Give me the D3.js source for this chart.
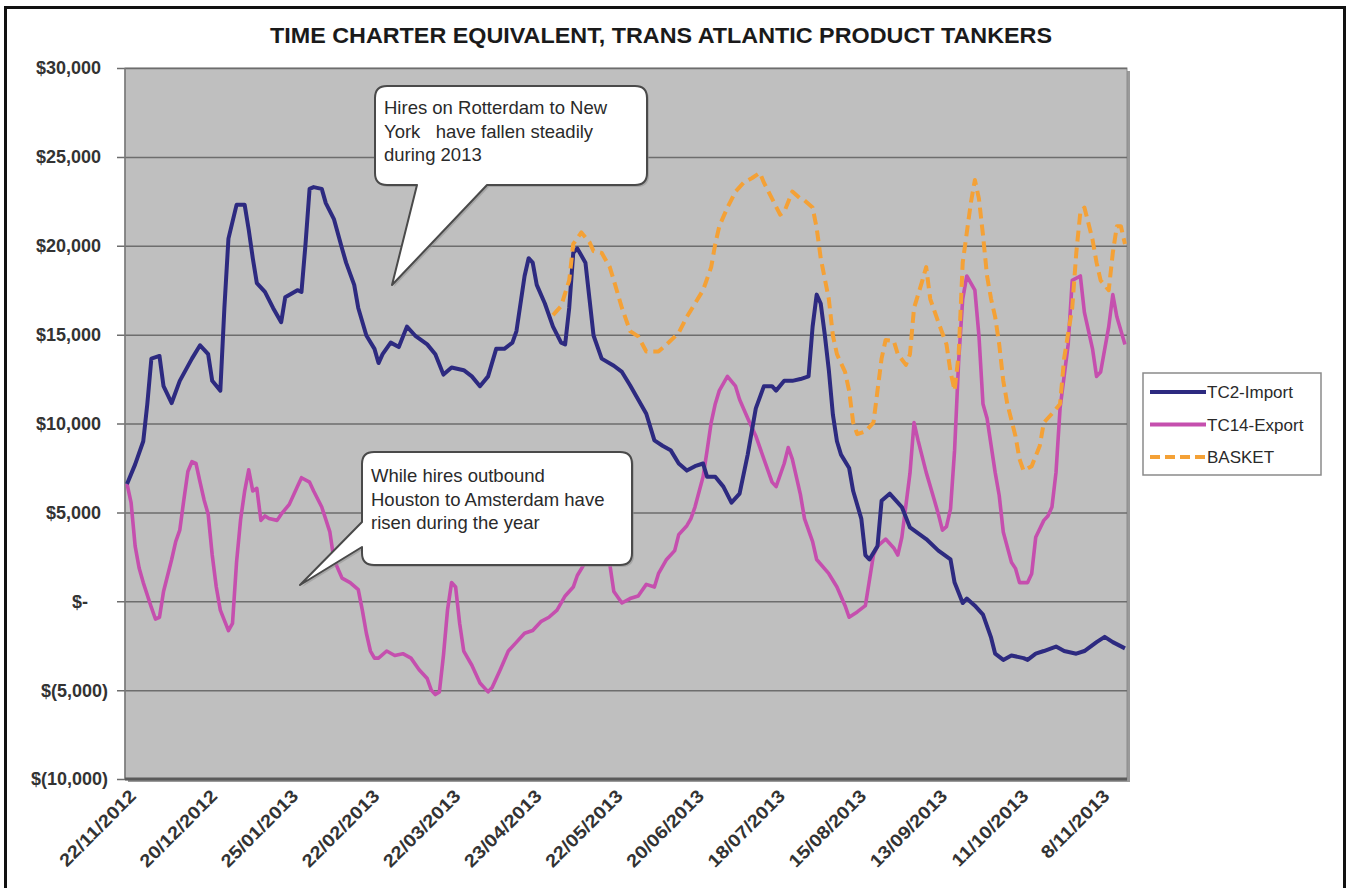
<!DOCTYPE html>
<html>
<head>
<meta charset="utf-8">
<script src="https://cdn.jsdelivr.net/npm/d3@7"></script>
<style>
  html, body { margin: 0; padding: 0; background: #ffffff; }
  svg { display: block; }
  text { font-family: "Liberation Sans", Arial, sans-serif; }
</style>
</head>
<body>
<svg id="chart" width="1350" height="888"></svg>
<script>
// ---- data ---------------------------------------------------------------
// Business-day categories from 22/11/2012; every 20th one carries a date label.
const categoryCount = 247;
const xTickLabels = [
  [0, "22/11/2012"], [20, "20/12/2012"], [40, "25/01/2013"], [60, "22/02/2013"],
  [80, "22/03/2013"], [100, "23/04/2013"], [120, "22/05/2013"], [140, "20/06/2013"],
  [160, "18/07/2013"], [180, "15/08/2013"], [200, "13/09/2013"], [220, "11/10/2013"],
  [240, "8/11/2013"]
];
const yTicks = [-10000, -5000, 0, 5000, 10000, 15000, 20000, 25000, 30000];
const seriesNames = ["TC2-Import", "TC14-Export", "BASKET"];

// [category index, USD/day]
const tc2Import = [[0,6600],[2,7700],[4,9000],[5,11100],[6,13650],[8,13800],[9,12100],[11,11150],[13,12400],[16,13650],[18,14400],[20,13900],[21,12400],[23,11850],[24,16500],[25,20400],[27,22300],[29,22300],[30,20900],[31,19300],[32,17900],[34,17400],[36,16500],[38,15700],[39,17100],[42,17500],[43,17400],[44,20100],[45,23200],[46,23300],[48,23200],[49,22400],[51,21500],[53,19850],[54,19050],[56,17800],[57,16500],[59,14950],[61,14200],[62,13400],[63,13900],[65,14550],[67,14300],[69,15450],[71,14950],[74,14450],[76,13900],[78,12750],[80,13150],[83,13000],[85,12650],[87,12100],[89,12650],[91,14200],[93,14200],[95,14550],[96,15200],[98,18300],[99,19300],[100,19050],[101,17800],[103,16750],[105,15450],[107,14550],[108,14450],[109,16500],[110,19600],[111,19850],[113,19050],[114,17000],[115,14950],[117,13650],[120,13250],[122,12900],[124,12150],[126,11350],[128,10550],[130,9050],[132,8750],[134,8500],[136,7750],[138,7350],[140,7600],[142,7750],[143,7000],[145,7000],[147,6450],[149,5550],[151,6050],[153,8250],[155,10850],[157,12100],[159,12100],[160,11850],[162,12400],[164,12400],[166,12500],[168,12650],[169,15450],[170,17250],[171,16750],[172,15000],[173,13000],[174,10500],[175,9000],[176,8250],[178,7500],[179,6200],[181,4650],[182,2600],[183,2350],[185,3100],[186,5650],[188,6050],[191,5300],[193,4150],[197,3500],[200,2850],[203,2350],[204,1050],[206,-100],[207,150],[209,-250],[211,-750],[213,-2050],[214,-2950],[216,-3300],[218,-3050],[221,-3200],[222,-3300],[224,-2950],[226,-2800],[229,-2550],[231,-2800],[234,-2950],[236,-2800],[239,-2300],[241,-2000],[243,-2300],[246,-2650]];

const tc14Export = [[0,6600],[1,5550],[2,3100],[3,1850],[4,1050],[6,-350],[7,-1000],[8,-900],[9,550],[11,2350],[12,3350],[13,4000],[14,5700],[15,7300],[16,7850],[17,7750],[18,6700],[19,5700],[20,4900],[21,2600],[22,800],[23,-500],[25,-1650],[26,-1250],[27,2200],[28,4600],[29,6200],[30,7400],[31,6200],[32,6350],[33,4550],[34,4800],[35,4650],[37,4550],[38,4900],[40,5450],[42,6450],[43,6950],[45,6700],[46,6200],[48,5300],[50,3900],[51,2350],[53,1300],[55,1050],[57,650],[58,-500],[59,-1800],[60,-2800],[61,-3200],[62,-3200],[64,-2800],[66,-3050],[68,-2950],[70,-3200],[72,-3850],[74,-4350],[75,-5000],[76,-5250],[77,-5100],[78,-3050],[79,-500],[80,1050],[81,800],[82,-1250],[83,-2800],[85,-3600],[87,-4600],[89,-5100],[90,-4850],[92,-3850],[94,-2800],[96,-2300],[98,-1800],[100,-1650],[102,-1150],[104,-900],[106,-500],[108,300],[110,800],[111,1450],[113,2200],[114,3000],[116,3700],[117,3200],[119,2100],[120,550],[122,-100],[124,150],[126,300],[128,950],[130,800],[131,1550],[133,2350],[135,2850],[136,3750],[138,4250],[139,4650],[140,5300],[142,7000],[143,8500],[144,10050],[145,11100],[146,11850],[148,12650],[150,12100],[151,11350],[153,10300],[155,9300],[157,8000],[159,6700],[160,6450],[162,7750],[163,8650],[164,8000],[166,6000],[167,4650],[169,3350],[170,2350],[173,1550],[175,800],[177,-250],[178,-900],[180,-600],[182,-250],[184,2600],[185,3100],[187,3500],[189,3000],[190,2600],[191,3600],[193,7200],[194,10050],[195,9050],[197,7250],[199,5700],[200,4900],[201,4000],[202,4200],[203,5200],[204,8500],[205,13500],[206,17000],[207,18300],[209,17500],[210,14950],[211,11100],[212,10300],[214,7250],[215,5950],[216,3900],[218,2200],[219,1850],[220,1050],[222,1050],[223,1550],[224,3600],[226,4550],[227,4800],[228,5300],[229,7250],[230,10850],[232,14450],[233,18050],[235,18300],[236,16250],[238,14200],[239,12650],[240,12900],[242,15450],[243,17250],[244,16000],[246,14450]];

const basket = [[105,16100],[107,16600],[109,18050],[110,20100],[112,20750],[114,20200],[115,19700],[117,19600],[119,18800],[120,18050],[122,16500],[124,15200],[126,14900],[128,14050],[131,14050],[133,14450],[136,15100],[138,16000],[140,16750],[142,17500],[144,18800],[145,20100],[146,21100],[148,22150],[150,23050],[152,23550],[154,23800],[156,24100],[157,23550],[159,22650],[161,21750],[162,21900],[164,23050],[166,22650],[167,22550],[169,22150],[170,21000],[171,19300],[173,17000],[174,14950],[175,13900],[177,12900],[178,11850],[179,10050],[180,9400],[182,9550],[184,10050],[185,11850],[186,13650],[187,14700],[189,14650],[190,13900],[192,13300],[193,13900],[194,16500],[196,18000],[197,18800],[198,17000],[200,15700],[202,14450],[203,12900],[204,11850],[205,13900],[206,19050],[208,22400],[209,23700],[210,22650],[211,20600],[212,18300],[213,17000],[214,16000],[215,14450],[216,12400],[217,11100],[219,9300],[220,8000],[221,7350],[223,7600],[225,8750],[226,10050],[228,10550],[230,11100],[231,13650],[233,16500],[234,19600],[235,21900],[236,22150],[238,20350],[239,19050],[240,18050],[242,17500],[243,19600],[244,21100],[245,21100],[246,20100]];

const calloutTexts = [
  ["Hires on Rotterdam to New", "York   have fallen steadily", "during 2013"],
  ["While hires outbound", "Houston to Amsterdam have", "risen during the year"]
];

// ---- layout -------------------------------------------------------------
const W = 1350, H = 888;
const plot = { left: 125, right: 1127, top: 68, bottom: 779 };
const colors = { tc2: "#2d2a80", tc14: "#c54fae", basket: "#f4a136" };

const svg = d3.select("#chart");

const x = d3.scaleLinear().domain([-0.5, categoryCount - 0.5]).range([plot.left, plot.right]);
const y = d3.scaleLinear().domain([-10000, 30000]).range([plot.bottom, plot.top]);

// outer frame
svg.append("rect")
  .attr("x", 5.5).attr("y", 7.5).attr("width", W - 11).attr("height", H + 20)
  .attr("fill", "#ffffff").attr("stroke", "#111").attr("stroke-width", 3);

// title
svg.append("text")
  .attr("x", 661).attr("y", 43)
  .attr("text-anchor", "middle")
  .attr("font-size", 22).attr("font-weight", "bold").attr("fill", "#1a1a1a")
  .attr("textLength", 782).attr("lengthAdjust", "spacingAndGlyphs")
  .text("TIME CHARTER EQUIVALENT, TRANS ATLANTIC PRODUCT TANKERS");

// plot area shadow + fill
svg.append("rect")
  .attr("x", plot.left + 3).attr("y", plot.top + 3)
  .attr("width", plot.right - plot.left).attr("height", plot.bottom - plot.top)
  .attr("fill", "#9a9a9a");
svg.append("rect")
  .attr("x", plot.left).attr("y", plot.top)
  .attr("width", plot.right - plot.left).attr("height", plot.bottom - plot.top)
  .attr("fill", "#bfbfbf").attr("stroke", "#8a8a8a").attr("stroke-width", 1);

// gridlines and y-axis ticks
const yAxis = d3.axisLeft(y).tickValues(yTicks).tickSize(-(plot.right - plot.left) - 8).tickFormat("");
const gy = svg.append("g").attr("transform", `translate(${plot.left},0)`).call(yAxis);
gy.select(".domain").remove();
gy.selectAll(".tick line")
  .attr("x1", -8)
  .attr("x2", plot.right - plot.left)
  .attr("stroke", "#6d6d6d").attr("stroke-width", 1.5);

// left axis line and bottom axis line
svg.append("line")
  .attr("x1", plot.left).attr("x2", plot.left).attr("y1", plot.top).attr("y2", plot.bottom)
  .attr("stroke", "#7a7a7a").attr("stroke-width", 1.5);
svg.append("line")
  .attr("x1", plot.left).attr("x2", plot.right).attr("y1", plot.bottom).attr("y2", plot.bottom)
  .attr("stroke", "#5a5a5a").attr("stroke-width", 3);

// y tick labels in accounting format
const fmt = d3.format(",");
function money(v) {
  if (v === 0) return "$-";
  if (v < 0) return "$(" + fmt(-v) + ")";
  return "$" + fmt(v);
}
svg.append("g").selectAll("text")
  .data(yTicks)
  .join("text")
  .attr("x", d => d < 0 ? 108 : (d === 0 ? 88 : 101))
  .attr("y", d => y(d))
  .attr("dy", "0.36em")
  .attr("text-anchor", "end")
  .attr("font-size", 18).attr("font-weight", "bold").attr("fill", "#333")
  .text(d => money(d));

// x tick labels, rotated and slightly widened
svg.append("g").selectAll("text")
  .data(xTickLabels)
  .join("text")
  .attr("transform", d => `translate(${x(d[0]) + 1},${plot.bottom + 9}) rotate(-45)`)
  .attr("dy", "0.72em")
  .attr("text-anchor", "end")
  .attr("font-size", 18).attr("font-weight", "bold").attr("fill", "#333")
  .text(d => d[1])
  .each(function () {
    const len = this.getComputedTextLength();
    d3.select(this).attr("textLength", len * 1.12).attr("lengthAdjust", "spacingAndGlyphs");
  });

// series lines
const line = d3.line().x(d => x(d[0])).y(d => y(d[1])).curve(d3.curveLinear);
const lines = svg.append("g").attr("fill", "none").attr("stroke-linejoin", "round");
lines.append("path").datum(tc14Export)
  .attr("d", line).attr("stroke", colors.tc14).attr("stroke-width", 3.6);
lines.append("path").datum(tc2Import)
  .attr("d", line).attr("stroke", colors.tc2).attr("stroke-width", 4);
lines.append("path").datum(basket)
  .attr("d", line).attr("stroke", colors.basket).attr("stroke-width", 4)
  .attr("stroke-dasharray", "11,6");

// callouts (speech bubbles)
function bubbleBottom(b) {
  const r = 12;
  return `M${b.x0 + r},${b.y0} H${b.x1 - r} Q${b.x1},${b.y0} ${b.x1},${b.y0 + r}
    V${b.y1 - r} Q${b.x1},${b.y1} ${b.x1 - r},${b.y1}
    H${b.p1} L${b.tx},${b.ty} L${b.p0},${b.y1}
    H${b.x0 + r} Q${b.x0},${b.y1} ${b.x0},${b.y1 - r}
    V${b.y0 + r} Q${b.x0},${b.y0} ${b.x0 + r},${b.y0} Z`;
}
function bubbleLeft(b) {
  const r = 12;
  return `M${b.x0 + r},${b.y0} H${b.x1 - r} Q${b.x1},${b.y0} ${b.x1},${b.y0 + r}
    V${b.y1 - r} Q${b.x1},${b.y1} ${b.x1 - r},${b.y1}
    H${b.x0 + r} Q${b.x0},${b.y1} ${b.x0},${b.y1 - r}
    V${b.p1} L${b.tx},${b.ty} L${b.x0},${b.p0}
    V${b.y0 + r} Q${b.x0},${b.y0} ${b.x0 + r},${b.y0} Z`;
}
const bubbles = [
  { x0: 375, y0: 86, x1: 647, y1: 185, p0: 417, p1: 487, tx: 392, ty: 285, side: "bottom",
    tx0: 384, ty0: 114, lines: calloutTexts[0] },
  { x0: 362, y0: 452, x1: 632, y1: 565, p0: 522, p1: 547, tx: 300, ty: 585, side: "left",
    tx0: 371, ty0: 482, lines: calloutTexts[1] }
];
bubbles.forEach(b => {
  const g = svg.append("g");
  g.append("path")
    .attr("d", b.side === "bottom" ? bubbleBottom(b) : bubbleLeft(b))
    .attr("transform", "translate(2,2)")
    .attr("fill", "#8c8c8c").attr("opacity", 0.5);
  g.append("path")
    .attr("d", b.side === "bottom" ? bubbleBottom(b) : bubbleLeft(b))
    .attr("fill", "#ffffff").attr("stroke", "#4a4a4a").attr("stroke-width", 2)
    .attr("stroke-linejoin", "round");
  g.selectAll("text").data(b.lines).join("text")
    .attr("x", b.tx0).attr("y", (d, i) => b.ty0 + i * 23.5)
    .attr("font-size", 18.5).attr("fill", "#2a2a2a")
    .attr("xml:space", "preserve").style("white-space", "pre")
    .text(d => d);
});

// legend
const legend = svg.append("g");
legend.append("rect")
  .attr("x", 1143).attr("y", 373).attr("width", 178).attr("height", 102)
  .attr("fill", "#ffffff").attr("stroke", "#8a8a8a").attr("stroke-width", 1.5);
const legendItems = [
  { name: seriesNames[0], color: colors.tc2, dash: null },
  { name: seriesNames[1], color: colors.tc14, dash: null },
  { name: seriesNames[2], color: colors.basket, dash: "10,5" }
];
legendItems.forEach((it, i) => {
  const yy = 392 + i * 32.5;
  legend.append("line")
    .attr("x1", 1150).attr("x2", 1206).attr("y1", yy).attr("y2", yy)
    .attr("stroke", it.color).attr("stroke-width", 4)
    .attr("stroke-dasharray", it.dash);
  legend.append("text")
    .attr("x", 1207).attr("y", yy).attr("dy", "0.36em")
    .attr("font-size", 17).attr("fill", "#2a2a2a")
    .text(it.name);
});
</script>
</body>
</html>
